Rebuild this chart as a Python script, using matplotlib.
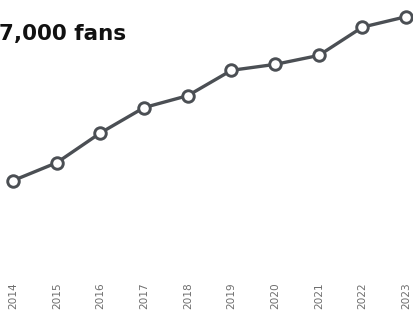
import matplotlib
matplotlib.use("Agg")
import matplotlib.pyplot as plt

# fan counts per year
years = [2014, 2015, 2016, 2017, 2018, 2019, 2020, 2021, 2022, 2023]
fans = [6000, 7200, 9200, 10900, 11700, 13400, 13800, 14400, 16300, 17000]
title = "7,000 fans"

fig = plt.figure(figsize=(4.14, 3.16), dpi=100)
ax = fig.add_axes([0, 0, 1, 1])
ax.set_xlim(2013.70, 2023.18)
ax.set_ylim(-3090, 18120)
ax.axis("off")

ax.plot(years, fans, color="#4b4f54", lw=2.4, marker="o", ms=8.3,
        mfc="white", mec="#4b4f54", mew=2.1, solid_capstyle="round")

for yr in years:
    ax.text(yr, -850, str(yr), rotation=90, ha="center", va="top",
            fontsize=7.6, color="#6e6e6e")

fig.text(-0.002, 0.872, title, fontsize=15.5, fontweight="bold",
         color="#111111", ha="left", va="baseline")

fig.savefig("out.png", dpi=100)
